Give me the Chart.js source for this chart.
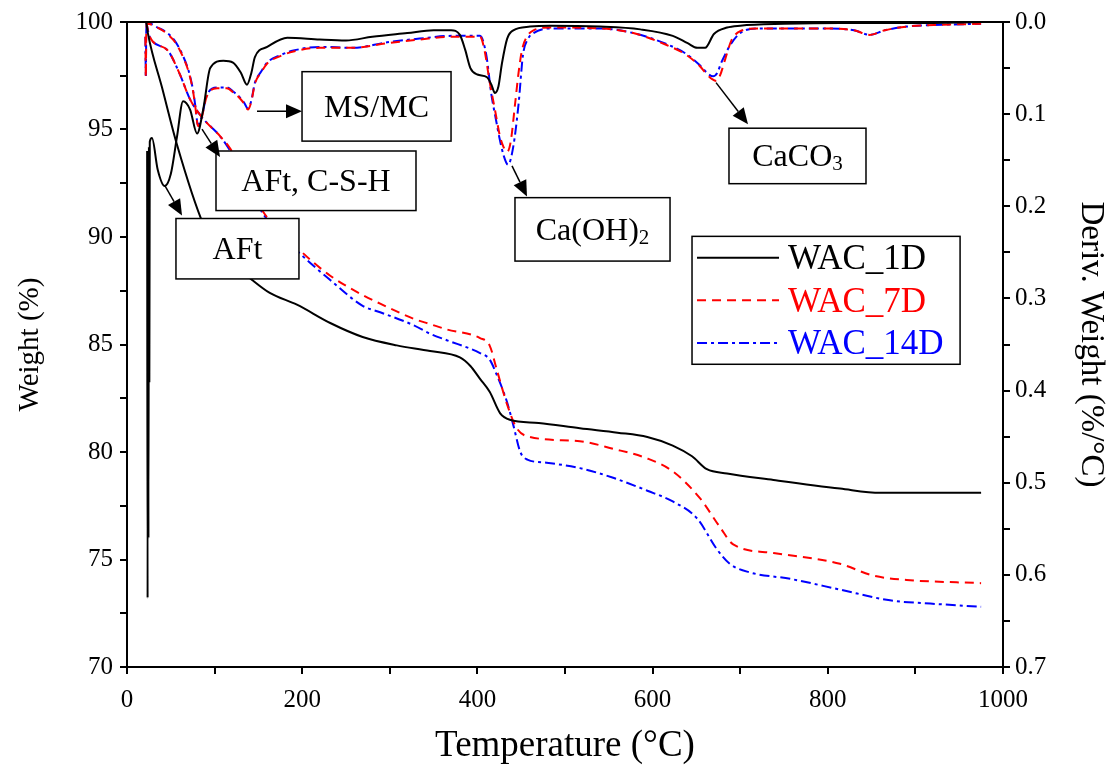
<!DOCTYPE html>
<html><head><meta charset="utf-8">
<script src="https://cdn.jsdelivr.net/npm/chart.js@4.4.1/dist/chart.umd.min.js"></script>
<style>html,body{margin:0;padding:0;background:#fff;}#wrap{width:1117px;height:773px;}</style>
</head><body><div id="wrap"><canvas id="c" width="1117" height="773"></canvas></div>
<script>
// ---- DATA ----
const seriesNames = ['WAC_1D', 'WAC_7D', 'WAC_14D'];

// TG (Weight %)
const tgT_1D = [22, 24, 40, 57, 87, 100, 120, 143, 163, 194, 232, 269, 308, 346, 380, 392, 403, 414, 426, 437, 470, 517, 560, 594, 623, 645, 662, 685, 738, 814, 860, 975];
const tg_1D  = [100, 99.45, 96.95, 94.3, 90.6, 89.7, 88.8, 88.0, 87.4, 86.85, 86.0, 85.35, 84.96, 84.7, 84.4, 84.0, 83.4, 82.8, 81.8, 81.5, 81.35, 81.1, 80.9, 80.7, 80.3, 79.8, 79.2, 79.0, 78.7, 78.3, 78.1, 78.1];

const tgT_7D = [22, 26, 46, 60, 72, 87, 106, 118, 155, 197, 232, 269, 289, 327, 346, 365, 403, 414, 422, 434, 445, 460, 517, 555, 594, 623, 654, 677, 692, 738, 814, 852, 890, 975];
const tg_7D  = [100, 99.3, 98.7, 97.6, 96.4, 95.5, 94.7, 94.1, 91.2, 89.4, 88.2, 87.3, 86.9, 86.2, 85.95, 85.7, 85.3, 84.95, 83.85, 82.2, 81.1, 80.7, 80.5, 80.15, 79.7, 79.1, 77.85, 76.5, 75.7, 75.3, 74.8, 74.25, 74.05, 73.9];

const tgT_14D = [22, 26, 46, 60, 72, 87, 106, 118, 155, 197, 232, 269, 289, 327, 346, 365, 403, 414, 422, 434, 441, 449, 457, 479, 517, 555, 594, 623, 651, 673, 688, 711, 757, 814, 871, 917, 975];
const tg_14D  = [100, 99.3, 98.7, 97.6, 96.4, 95.5, 94.7, 94.0, 91.1, 89.25, 88.0, 86.8, 86.5, 85.9, 85.5, 85.2, 84.6, 84.3, 83.6, 82.3, 81.25, 80.0, 79.65, 79.5, 79.25, 78.8, 78.2, 77.7, 76.9, 75.5, 74.8, 74.4, 74.1, 73.6, 73.1, 72.95, 72.8];

// DTG (Deriv. Weight %/°C)
const dtgT_1D = [23, 23.5, 24, 24.5, 25, 25.5, 26, 28.5, 35, 43, 50, 57, 64, 72, 80, 87, 95, 110, 121, 130, 137, 142, 146, 160, 183, 220, 250, 280, 320, 350, 370, 380, 386, 392, 400, 411, 416, 420, 424, 428, 434, 441, 460, 483, 540, 586, 623, 640, 651, 660, 670, 685, 700, 750, 814, 900, 975];
const dtg_1D  = [0.14, 0.625, 0.14, 0.56, 0.135, 0.39, 0.13, 0.126, 0.16, 0.178, 0.165, 0.125, 0.086, 0.095, 0.121, 0.095, 0.05, 0.042, 0.044, 0.055, 0.068, 0.055, 0.038, 0.027, 0.017, 0.019, 0.020, 0.016, 0.012, 0.009, 0.009, 0.014, 0.03, 0.05, 0.057, 0.06, 0.068, 0.077, 0.07, 0.045, 0.018, 0.009, 0.005, 0.004, 0.005, 0.008, 0.015, 0.023, 0.028, 0.028, 0.013, 0.006, 0.004, 0.002, 0.001, 0.001, 0.0];

const dtgT_7D = [21, 21.5, 22, 23, 35, 46, 55, 64, 70, 75, 78, 81, 85, 91, 103, 114, 122, 129, 134, 138, 142, 146, 153, 160, 175, 190, 220, 258, 297, 334, 372, 403, 408, 414, 420, 426, 430, 434, 438, 443, 447, 451, 458, 464, 483, 540, 578, 616, 639, 654, 663, 668, 673, 677, 683, 690, 700, 720, 738, 795, 830, 848, 865, 890, 930, 975];
const dtg_7D  = [0.016, 0.06, 0.01, 0.002, 0.006, 0.013, 0.022, 0.038, 0.053, 0.073, 0.092, 0.113, 0.105, 0.081, 0.072, 0.072, 0.077, 0.083, 0.089, 0.095, 0.086, 0.067, 0.055, 0.045, 0.037, 0.032, 0.028, 0.028, 0.023, 0.019, 0.016, 0.016, 0.03, 0.065, 0.095, 0.125, 0.136, 0.141, 0.13, 0.089, 0.055, 0.03, 0.014, 0.009, 0.006, 0.007, 0.012, 0.025, 0.036, 0.048, 0.058, 0.062, 0.064, 0.058, 0.04, 0.02, 0.01, 0.007, 0.007, 0.007, 0.009, 0.014, 0.009, 0.005, 0.003, 0.002];

const dtgT_14D = [21, 21.5, 22, 23, 35, 46, 55, 64, 70, 75, 78, 81, 85, 91, 103, 114, 122, 129, 134, 138, 142, 146, 153, 160, 175, 190, 220, 258, 297, 334, 372, 403, 410, 416, 421, 425, 430, 435, 441, 447, 452, 458, 464, 483, 540, 578, 616, 639, 654, 663, 669, 674, 678, 683, 688, 700, 720, 738, 795, 830, 848, 865, 890, 930, 975];
const dtg_14D  = [0.016, 0.06, 0.01, 0.001, 0.006, 0.012, 0.021, 0.037, 0.052, 0.072, 0.091, 0.112, 0.104, 0.08, 0.071, 0.071, 0.076, 0.082, 0.088, 0.094, 0.085, 0.066, 0.054, 0.044, 0.036, 0.031, 0.027, 0.028, 0.022, 0.018, 0.015, 0.015, 0.035, 0.079, 0.105, 0.125, 0.145, 0.155, 0.135, 0.089, 0.036, 0.018, 0.012, 0.007, 0.007, 0.012, 0.024, 0.035, 0.047, 0.056, 0.059, 0.055, 0.045, 0.035, 0.026, 0.012, 0.007, 0.007, 0.007, 0.009, 0.014, 0.009, 0.005, 0.003, 0.002];

// Annotation labels (text)
const annoLabels = ['MS/MC', 'AFt, C-S-H', 'AFt', 'Ca(OH)2', 'CaCO3'];

// ---- LAYOUT / STYLE ----
const FONT = '"Liberation Serif", "Times New Roman", serif';
const colors = ['#000000', '#ff0000', '#0000ff'];
const dashes = [[], [9, 6], [10, 4, 3, 4]];

// annotation geometry in data units (x: °C, y: Weight %)
const annoGeom = [
  {box: [199.8, 97.69, 369.9, 94.46], arrow: [148.4, 95.85, 199.8, 95.85], sub: null},
  {box: [101.6, 94.0, 329.9, 91.23], arrow: [85.6, 95.02, 106.2, 93.72], sub: null},
  {box: [55.9, 90.86, 196.3, 88.05], arrow: [43.4, 92.38, 62.8, 91.0], sub: null},
  {box: [442.9, 91.83, 619.9, 88.88], arrow: [439.5, 93.31, 456.6, 91.88], sub: 'Ca(OH)|2'},
  {box: [687.2, 95.06, 843.6, 92.48], arrow: [672.4, 97.18, 708.9, 95.25], sub: 'CaCO|3'}
];
const legendGeom = {box: [645, 90.03, 951, 84.08]};

function pts(xs, ys) { return xs.map((x, i) => ({x: x, y: ys[i]})); }

const datasets = [];
const tgX = [tgT_1D, tgT_7D, tgT_14D], tgY = [tg_1D, tg_7D, tg_14D];
const dX = [dtgT_1D, dtgT_7D, dtgT_14D], dY = [dtg_1D, dtg_7D, dtg_14D];
for (let i = 0; i < 3; i++) {
  datasets.push({label: seriesNames[i] + ' TG', data: pts(tgX[i], tgY[i]), yAxisID: 'y',
    borderColor: colors[i], borderWidth: 2, borderDash: dashes[i], pointRadius: 0, fill: false, cubicInterpolationMode: 'monotone'});
  datasets.push({label: seriesNames[i] + ' DTG', data: pts(dX[i], dY[i]), yAxisID: 'y2',
    borderColor: colors[i], borderWidth: 2, borderDash: dashes[i], pointRadius: 0, fill: false, cubicInterpolationMode: 'monotone'});
}

function drawArrow(ctx, x1, y1, x2, y2) {
  const ang = Math.atan2(y2 - y1, x2 - x1);
  const hl = 16, hw = 7;
  const bx = x2 - hl * Math.cos(ang), by = y2 - hl * Math.sin(ang);
  ctx.beginPath(); ctx.moveTo(x1, y1); ctx.lineTo(bx, by); ctx.stroke();
  ctx.beginPath();
  ctx.moveTo(x2, y2);
  ctx.lineTo(bx + hw * Math.sin(ang), by - hw * Math.cos(ang));
  ctx.lineTo(bx - hw * Math.sin(ang), by + hw * Math.cos(ang));
  ctx.closePath(); ctx.fill();
}

const overlay = {
  id: 'overlay',
  afterDatasetsDraw(chart) {
    const ctx = chart.ctx, xs = chart.scales.x, ys = chart.scales.y, a = chart.chartArea;
    const px = v => xs.getPixelForValue(v), py = v => ys.getPixelForValue(v);
    ctx.save();
    ctx.strokeStyle = '#000'; ctx.lineWidth = 2; ctx.setLineDash([]);
    ctx.strokeRect(a.left, a.top, a.right - a.left, a.bottom - a.top);
    ctx.lineWidth = 1.5; ctx.fillStyle = '#000';
    annoGeom.forEach((g, i) => {
      const x1 = px(g.box[0]), y1 = py(g.box[1]), x2 = px(g.box[2]), y2 = py(g.box[3]);
      ctx.fillStyle = '#fff'; ctx.fillRect(x1, y1, x2 - x1, y2 - y1);
      ctx.fillStyle = '#000';
      ctx.strokeRect(x1, y1, x2 - x1, y2 - y1);
      drawArrow(ctx, px(g.arrow[0]), py(g.arrow[1]), px(g.arrow[2]), py(g.arrow[3]));
      const cx = (x1 + x2) / 2, cy = (y1 + y2) / 2 + 2;
      ctx.textBaseline = 'middle';
      if (g.sub) {
        const parts = g.sub.split('|');
        ctx.font = '32px ' + FONT; const w1 = ctx.measureText(parts[0]).width;
        ctx.font = '21px ' + FONT; const w2 = ctx.measureText(parts[1]).width;
        const sx = cx - (w1 + w2) / 2;
        ctx.textAlign = 'left';
        ctx.font = '32px ' + FONT; ctx.fillText(parts[0], sx, cy);
        ctx.font = '21px ' + FONT; ctx.fillText(parts[1], sx + w1, cy + 7);
      } else {
        ctx.font = '32px ' + FONT; ctx.textAlign = 'center';
        ctx.fillText(annoLabels[i], cx, cy);
      }
    });
    const lx1 = px(legendGeom.box[0]), ly1 = py(legendGeom.box[1]), lx2 = px(legendGeom.box[2]), ly2 = py(legendGeom.box[3]);
    ctx.lineWidth = 1.5; ctx.strokeStyle = '#000';
    ctx.strokeRect(lx1, ly1, lx2 - lx1, ly2 - ly1);
    const rowH = (ly2 - ly1) / 3;
    seriesNames.forEach((n, i) => {
      const yy = ly1 + rowH * (i + 0.5);
      ctx.strokeStyle = colors[i]; ctx.lineWidth = 2; ctx.setLineDash(dashes[i]);
      ctx.beginPath(); ctx.moveTo(lx1 + 5, yy); ctx.lineTo(lx1 + 87, yy); ctx.stroke();
      ctx.setLineDash([]);
      ctx.fillStyle = colors[i]; ctx.font = '35px ' + FONT; ctx.textAlign = 'left'; ctx.textBaseline = 'middle';
      ctx.fillText(n, lx1 + 96, yy + 2);
    });
    ctx.restore();
  }
};

const tickFont = {family: FONT, size: 25};
const gridOpts = {drawOnChartArea: false, drawTicks: true, tickLength: 7, color: '#000', lineWidth: 2};
const borderOpts = {color: '#000', width: 2};

new Chart(document.getElementById('c'), {
  type: 'line',
  data: {datasets: datasets},
  plugins: [overlay],
  options: {
    responsive: false, animation: false, parsing: true,
    layout: {padding: {top: 17, left: 0, right: 0, bottom: 0}},
    plugins: {legend: {display: false}, tooltip: {enabled: false}},
    scales: {
      x: {type: 'linear', min: 0, max: 1000,
        ticks: {stepSize: 100, autoSkip: false, maxRotation: 0, color: '#000', font: tickFont, padding: 11,
          callback: v => (v % 200 === 0 ? String(v) : '')},
        grid: gridOpts, border: borderOpts,
        title: {display: true, text: 'Temperature (°C)', color: '#000', font: {family: FONT, size: 37}, padding: {top: 0, bottom: 5}},
        afterFit: s => { s.height = 106; }},
      y: {type: 'linear', position: 'left', min: 70, max: 100,
        ticks: {stepSize: 2.5, autoSkip: false, color: '#000', font: tickFont, padding: 7,
          callback: v => (v % 5 === 0 ? String(v) : '')},
        grid: gridOpts, border: borderOpts,
        title: {display: true, text: 'Weight (%)', color: '#000', font: {family: FONT, size: 29}, padding: {top: 13, bottom: 0}},
        afterFit: s => { s.width = 127; }},
      y2: {type: 'linear', position: 'right', min: 0, max: 0.7, reverse: true,
        ticks: {stepSize: 0.05, autoSkip: false, color: '#000', font: tickFont, padding: 5,
          callback: v => (Math.round(v * 100) % 10 === 0 ? v.toFixed(1) : '')},
        grid: gridOpts, border: borderOpts,
        title: {display: true, text: 'Deriv. Weight (%/°C)', color: '#000', font: {family: FONT, size: 33}, padding: {top: 7, bottom: 0}},
        afterFit: s => { s.width = 114; }}
    }
  }
});
</script>
</body></html>
